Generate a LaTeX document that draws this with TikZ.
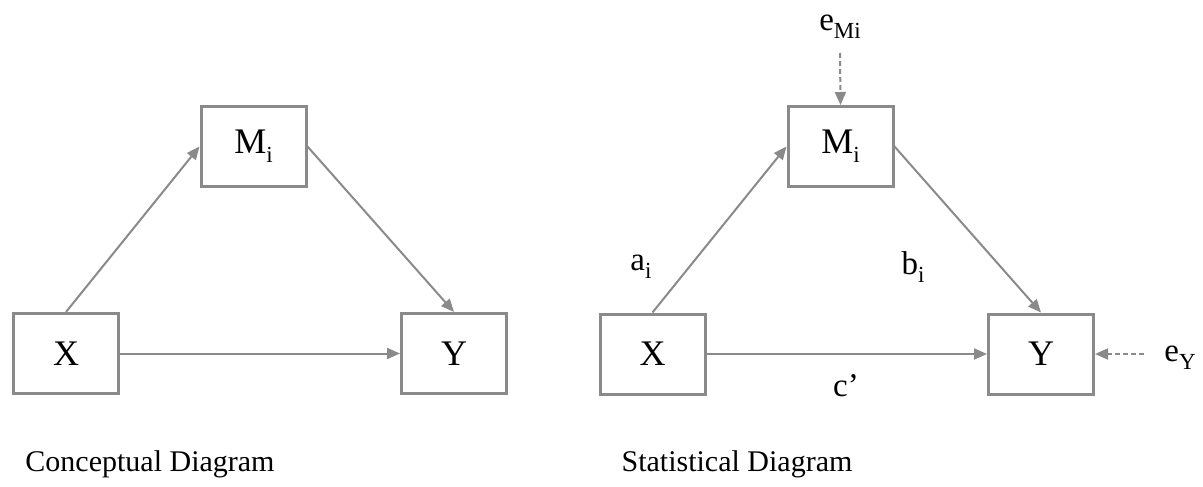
\documentclass[tikz,border=0pt]{standalone}
\usepackage{fontspec}
\setmainfont{Liberation Serif}
\usetikzlibrary{arrows.meta}
\definecolor{linegray}{HTML}{8A8A8A}
\newcommand{\sbs}[1]{\raisebox{-0.24em}{\fontsize{23}{25}\selectfont #1}}
\begin{document}
\begin{tikzpicture}[x=1pt,y=-1pt,
  var/.style={draw=linegray,line width=3pt,minimum width=105pt,minimum height=80pt,
    inner sep=0pt,font=\fontsize{36}{42}\selectfont},
  path/.style={draw=linegray,line width=2pt,-{Triangle[length=13pt,width=11pt]}},
  err/.style={path,dashed,dash pattern=on 5pt off 3pt},
  lbl/.style={inner sep=0pt,font=\fontsize{33}{39}\selectfont},
  caption/.style={inner sep=0pt,font=\fontsize{30}{36}\selectfont}]
\useasboundingbox (0,0) rectangle (1203,487);
% conceptual model
\node[var] (cx) at (66,353.5) {X};
\node[var] (cm) at (253.5,146.5) {M\sbs{i}};
\node[var] (cy) at (454,353.5) {Y};
\draw[path] (cx.north) -- (cm.west);
\draw[path] (cm.east) -- (cy.north);
\draw[path] (cx.east) -- (cy.west);
\node[caption] (cap1) at (150,464) {Conceptual Diagram};
% statistical model
\node[var] (sx) at (652.5,354) {X};
\node[var] (sm) at (840.5,146.5) {M\sbs{i}};
\node[var] (sy) at (1041,354) {Y};
\draw[path] (sx.north) -- (sm.west);
\draw[path] (sm.east) -- (sy.north);
\draw[path] (sx.east) -- (sy.west);
\node[lbl] (emi) at (840,27) {e\sbs{Mi}};
\coordinate (emiend) at (840,53);
\draw[err] (emiend) -- (sm.north);
\node[lbl] (ey) at (1180,358) {e\sbs{Y}};
\coordinate (eyend) at (1144,354);
\draw[err] (eyend) -- (sy.east);
\node[lbl] (ai) at (641,267) {a\sbs{i}};
\node[lbl] (bi) at (913,267) {b\sbs{i}};
\node[lbl] (cp) at (846,386) {c’};
\node[caption] (cap2) at (737,464) {Statistical Diagram};
\end{tikzpicture}
\end{document}
